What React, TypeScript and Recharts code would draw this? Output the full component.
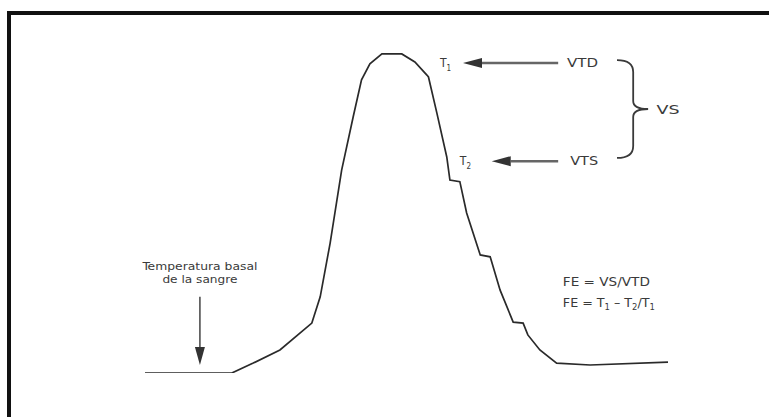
import { LineChart, Line, XAxis, YAxis, ReferenceLine, ReferenceDot } from "recharts";

// thermodilution curve: time (arbitrary units) vs drop in blood temperature
const time = [0, 16.6, 20.7, 25.8, 31.9, 33.5, 35.4, 37.6, 39.8, 41.4, 43.0, 45.3, 49.1, 51.6, 53.9, 54.2, 55.8, 57.7, 58.3, 60.2, 61.5, 64.1, 66.0, 67.9, 70.4, 72.3, 73.2, 75.5, 78.7, 85.1, 100];
const deltaT = [0, 0, 0.31, 0.72, 1.56, 2.38, 4.06, 6.34, 8.0, 9.16, 9.66, 9.97, 9.97, 9.72, 9.31, 9.25, 8.13, 6.75, 6.03, 5.98, 5.0, 3.69, 3.63, 2.59, 1.59, 1.56, 1.19, 0.72, 0.31, 0.25, 0.34];

const data = time.map((t, i) => ({ t, dT: deltaT[i] }));

// annotation anchors, in data units
const t1Level = 9.69;
const t2Level = 6.62;
const arrowStart = 79.0;
const t1ArrowTip = 60.8;
const t2ArrowTip = 66.3;
const basalX = 10.5;

const FONT = '"Liberation Sans Narrow", "Arial Narrow", "DejaVu Sans Condensed", "Liberation Sans", Arial, sans-serif';
const INK = "#3a3a3a";

function arrow(headLen: number, halfW: number, width: number, color: string) {
  return (p: any) => {
    const { x1, y1, x2, y2 } = p;
    const len = Math.hypot(x2 - x1, y2 - y1) || 1;
    const ux = (x2 - x1) / len;
    const uy = (y2 - y1) / len;
    const bx = x2 - ux * headLen;
    const by = y2 - uy * headLen;
    return (
      <g>
        <line x1={x1} y1={y1} x2={bx} y2={by} stroke={color} strokeWidth={width} />
        <polygon
          points={`${x2},${y2} ${bx - uy * halfW},${by + ux * halfW} ${bx + uy * halfW},${by - ux * halfW}`}
          fill="#333"
        />
      </g>
    );
  };
}

function brace(p: any) {
  const { x1, y1, x2, y2 } = p;
  const sx = x1 + (x2 - x1) * 0.52;
  const ym = (y1 + y2) / 2;
  const d = `M${x1},${y1} Q${sx},${y1} ${sx},${y1 + 12} L${sx},${ym - 8} Q${sx},${ym} ${x2},${ym} Q${sx},${ym} ${sx},${ym + 8} L${sx},${y2 - 12} Q${sx},${y2} ${x1},${y2}`;
  return <path d={d} fill="none" stroke={INK} strokeWidth={1.8} />;
}

function label(text: string, width: number, anchor: "start" | "middle" = "start", size = 12) {
  return (p: any) => (
    <text
      x={p.cx}
      y={p.cy}
      dy="0.35em"
      textAnchor={anchor}
      fontSize={size}
      fontFamily={FONT}
      fill={INK}
      textLength={width}
      lengthAdjust="spacingAndGlyphs"
    >
      {text}
    </text>
  );
}

function tLabel(sub: string) {
  return (p: any) => (
    <text x={p.cx} y={p.cy} dy="0.35em" fontSize={12} fontFamily={FONT} fill={INK}>
      <tspan>T</tspan>
      <tspan dy={4} fontSize={8}>{sub}</tspan>
    </text>
  );
}

function feLabel(p: any) {
  return (
    <text x={p.cx} y={p.cy} dy="0.35em" fontSize={12} fontFamily={FONT} fill={INK} textLength={92} lengthAdjust="spacingAndGlyphs">
      <tspan>FE = T</tspan>
      <tspan dy={3} fontSize={8}>1</tspan>
      <tspan dy={-3}> – T</tspan>
      <tspan dy={3} fontSize={8}>2</tspan>
      <tspan dy={-3}>/T</tspan>
      <tspan dy={3} fontSize={8}>1</tspan>
    </text>
  );
}

export default function App() {
  return (
    <div style={{ position: "absolute", left: 0, top: 0, width: 769, height: 417, background: "#fff", overflow: "hidden" }}>
      <div
        style={{
          position: "absolute",
          left: 7,
          top: 11,
          width: 762,
          height: 406,
          borderTop: "4px solid #111",
          borderLeft: "4px solid #111",
          boxSizing: "border-box",
        }}
      />
      <div style={{ position: "absolute", left: 0, top: 0 }}>
        <LineChart width={769} height={417} data={data} margin={{ top: 53, right: 101, bottom: 44, left: 145 }}>
          <XAxis dataKey="t" type="number" domain={[0, 100]} hide />
          <YAxis type="number" domain={[0, 10]} hide allowDataOverflow />
          <Line
            type="linear"
            dataKey="dT"
            stroke="#2a2a2a"
            strokeWidth={1.7}
            dot={false}
            activeDot={false}
            isAnimationActive={false}
          />
          <ReferenceLine
            segment={[{ x: arrowStart, y: t1Level }, { x: t1ArrowTip, y: t1Level }]}
            shape={arrow(19, 5, 2.5, "#666")}
          />
          <ReferenceLine
            segment={[{ x: arrowStart, y: t2Level }, { x: t2ArrowTip, y: t2Level }]}
            shape={arrow(19, 5, 2.5, "#666")}
          />
          <ReferenceLine
            segment={[{ x: basalX, y: 2.38 }, { x: basalX, y: 0.25 }]}
            shape={arrow(18, 5, 1.5, "#444")}
          />
          <ReferenceLine segment={[{ x: 90.25, y: 9.78 }, { x: 96.2, y: 6.72 }]} shape={brace} />
          <ReferenceDot x={56.4} y={t1Level} r={0} shape={tLabel("1")} />
          <ReferenceDot x={60.2} y={t2Level} r={0} shape={tLabel("2")} />
          <ReferenceDot x={80.7} y={t1Level} r={0} shape={label("VTD", 31)} />
          <ReferenceDot x={81.3} y={t2Level} r={0} shape={label("VTS", 28)} />
          <ReferenceDot x={97.8} y={8.22} r={0} shape={label("VS", 23)} />
          <ReferenceDot x={basalX} y={3.33} r={0} shape={label("Temperatura basal", 115, "middle", 10.5)} />
          <ReferenceDot x={basalX} y={2.94} r={0} shape={label("de la sangre", 75, "middle", 10.5)} />
          <ReferenceDot x={79.9} y={2.84} r={0} shape={label("FE = VS/VTD", 87)} />
          <ReferenceDot x={79.9} y={2.19} r={0} shape={feLabel} />
        </LineChart>
      </div>
    </div>
  );
}
